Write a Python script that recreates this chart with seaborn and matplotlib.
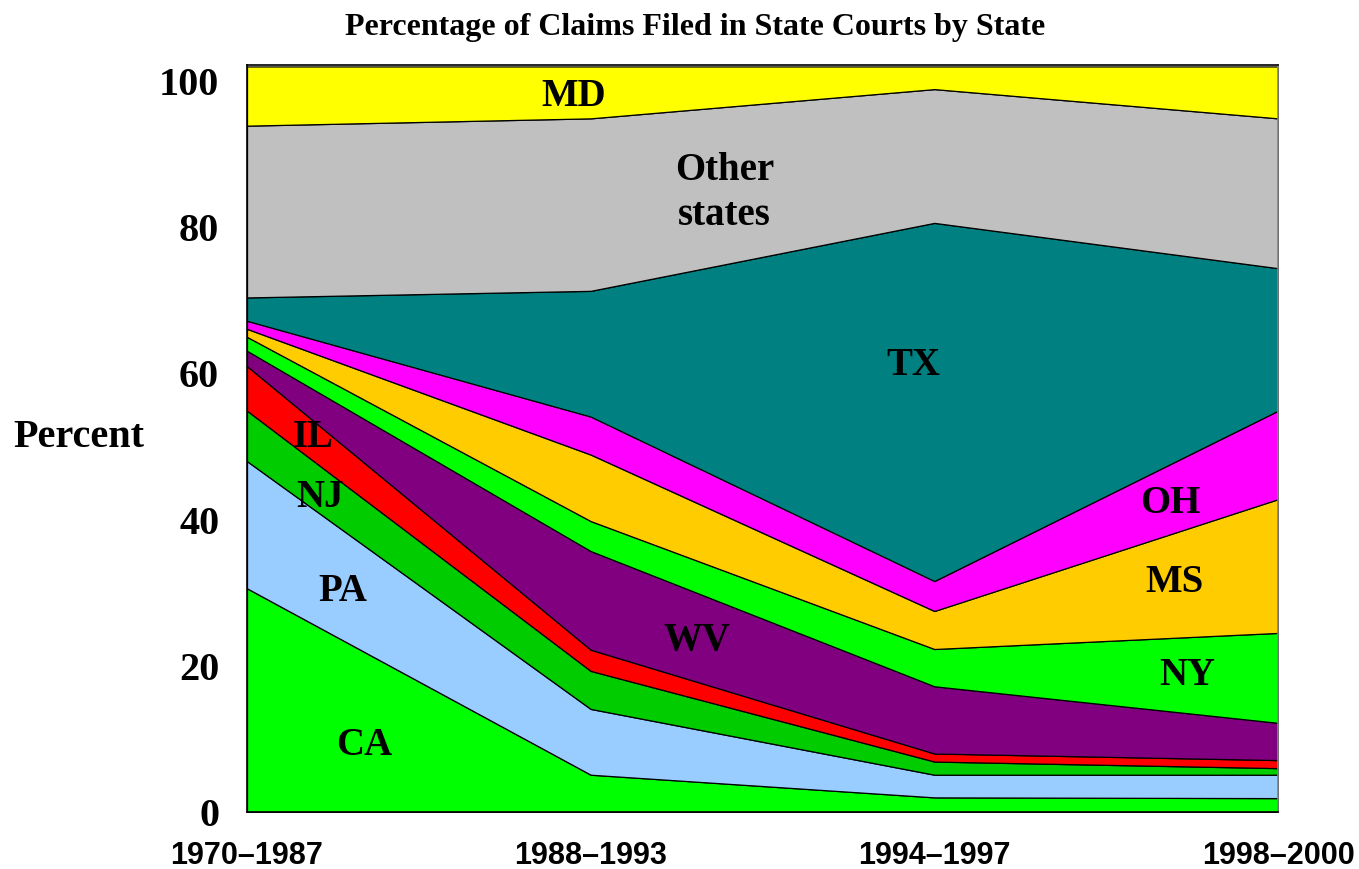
import numpy as np
import matplotlib
matplotlib.use('Agg')
import matplotlib.pyplot as plt
import seaborn as sns

# Periods on the x axis
periods = ['1970\u20131987', '1988\u20131993', '1994\u20131997', '1998\u20132000']

# Share of claims per state (percent), stacked bottom to top
states = ['CA', 'PA', 'NJ', 'IL', 'WV', 'NY', 'MS', 'OH', 'TX', 'Other', 'MD']
ca = [30.6, 5.1, 2.0, 1.9]
pa = [17.4, 9.0, 3.1, 3.2]
nj = [6.9, 5.2, 1.8, 0.9]
il = [6.1, 2.9, 1.1, 1.1]
wv = [2.1, 13.5, 9.2, 5.1]
ny = [1.9, 4.1, 5.1, 12.3]
ms = [1.1, 9.1, 5.2, 18.3]
oh = [1.1, 5.2, 4.1, 12.1]
tx = [3.2, 17.2, 49.0, 19.5]
other = [23.5, 23.6, 18.3, 20.5]
md = [8.1, 7.1, 3.1, 7.1]

colors = ['#00FF00', '#99CCFF', '#00CC00', '#FF0000', '#800080', '#00FF00',
          '#FFCC00', '#FF00FF', '#008080', '#C0C0C0', '#FFFF00']

# Area labels: text, x (period index), y (percent)
area_labels = [
    ('MD', 0.95, 97.9),
    ('Other\nstates', 1.39, 84.7),
    ('TX', 1.94, 61.1),
    ('OH', 2.686, 42.2),
    ('MS', 2.70, 31.4),
    ('NY', 2.735, 18.7),
    ('WV', 1.31, 23.5),
    ('CA', 0.34, 9.15),
    ('PA', 0.279, 30.1),
    ('NJ', 0.212, 43.0),
    ('IL', 0.192, 51.2),
]

sns.set_theme(style='white')
plt.rcParams['font.family'] = ['Liberation Serif', 'DejaVu Serif']
plt.rcParams['text.color'] = 'black'
plt.rcParams['xtick.color'] = 'black'
plt.rcParams['ytick.color'] = 'black'
plt.rcParams['axes.labelcolor'] = 'black'

fig = plt.figure(figsize=(13.59, 8.69), dpi=100)
ax = fig.add_axes([247 / 1359, 57 / 869, 1031 / 1359, 747 / 869])

x = np.arange(len(periods))
ax.stackplot(x, ca, pa, nj, il, wv, ny, ms, oh, tx, other, md,
             colors=colors, edgecolor='black', linewidth=0.9, labels=states)

ax.set_xlim(0, 3)
ax.set_ylim(0, 102.2)
ax.set_yticks([0, 20, 40, 60, 80, 100])
ax.set_yticklabels(['0', '20', '40', '60', '80', '100'], fontsize=29, fontweight='bold')
ax.set_xticks(x)
ax.set_xticklabels(periods, fontsize=22, fontweight='bold', family='Liberation Sans')
ax.tick_params(axis='y', length=0, pad=20)
ax.tick_params(axis='x', length=0, pad=21)

for s in ax.spines.values():
    s.set_color('black')
    s.set_linewidth(1.2)
ax.spines['right'].set_color('#888888')

ax.set_ylabel('Percent', rotation=0, fontsize=29, fontweight='bold', ha='center', va='center')
ax.yaxis.set_label_coords(-0.163, 0.502)

for text, lx, ly in area_labels:
    ax.text(lx, ly, text, fontsize=28, fontweight='bold', ha='center', va='center',
            linespacing=1.3)

fig.text(695 / 1359, 1 - 28 / 869, 'Percentage of Claims Filed in State Courts by State',
         fontsize=23, fontweight='bold', ha='center', va='center')

fig.savefig('out.png', dpi=100)
